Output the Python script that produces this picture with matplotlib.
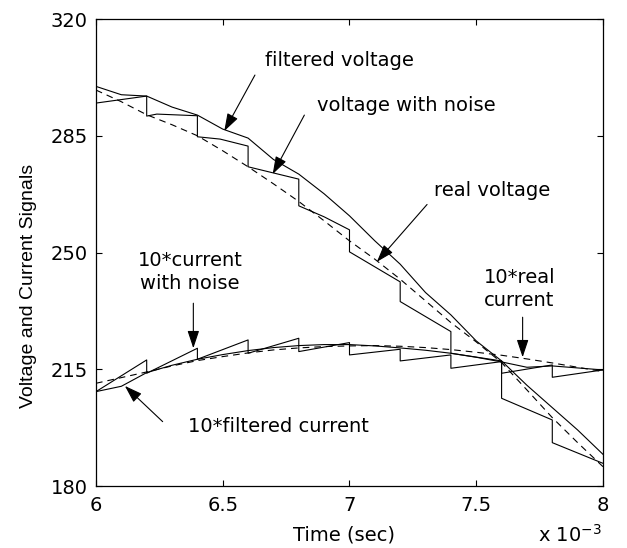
import numpy as np
import matplotlib.pyplot as plt

# time axis in ms (shown as x 10^-3 s)
t = [6.0, 6.1, 6.2, 6.3, 6.4, 6.5, 6.6, 6.7, 6.8, 6.9, 7.0,
     7.1, 7.2, 7.3, 7.4, 7.5, 7.6, 7.7, 7.8, 7.9, 8.0]

v_real = [298.7, 295.2, 291.3, 288.3, 285.0, 280.5, 275.7, 270.6, 265.3, 259.5, 253.5,
          248.0, 242.0, 235.5, 229.0, 223.2, 217.0, 208.8, 200.5, 193.0, 185.8]
v_filt = [299.8, 297.3, 296.9, 293.6, 291.2, 287.0, 284.3, 277.9, 273.5, 267.6, 261.0,
          253.5, 246.5, 238.0, 231.3, 223.5, 217.5, 210.2, 203.5, 196.8, 189.5]
i_real = [210.8, 212.5, 214.2, 216.0, 217.6, 218.8, 219.9, 220.8, 221.4, 221.8, 222.0,
          222.1, 221.9, 221.5, 220.9, 220.1, 219.2, 218.1, 216.9, 215.6, 214.3]
i_filt = [208.3, 209.9, 214.0, 216.2, 218.0, 219.4, 220.6, 221.5, 222.1, 222.4, 222.4,
          222.0, 221.4, 220.7, 219.8, 218.6, 217.2, 215.6, 216.0, 215.4, 214.8]

# noisy signals, jumps at every sample instant
tv_noise = [6.0, 6.2, 6.2, 6.24, 6.4, 6.4, 6.49, 6.6, 6.6, 6.8, 6.8, 6.9, 7.0, 7.0,
            7.2, 7.2, 7.4, 7.4, 7.6, 7.6, 7.8, 7.8, 8.0]
v_noise = [294.8, 296.9, 290.9, 291.5, 291.0, 284.7, 284.0, 281.9, 275.7, 272.0, 264.0,
           260.7, 256.8, 250.2, 241.2, 235.3, 226.3, 219.8, 217.5, 206.3, 199.8, 193.0, 186.8]
ti_noise = [6.0, 6.2, 6.2, 6.4, 6.4, 6.6, 6.6, 6.8, 6.8, 7.0, 7.0, 7.2, 7.2, 7.4,
            7.4, 7.6, 7.6, 7.8, 7.8, 8.0]
i_noise = [208.3, 217.8, 213.8, 221.3, 218.0, 223.8, 219.8, 224.3, 220.3, 223.0,
           219.3, 221.0, 217.5, 219.3, 215.3, 217.3, 213.8, 216.3, 212.6, 214.8]

plt.rcParams['font.family'] = 'DejaVu Sans'
plt.rcParams['font.size'] = 14

fig = plt.figure(figsize=(6.27, 5.48), dpi=100)
ax = fig.add_axes([0.1531, 0.1131, 0.8086, 0.8522])

lw = 0.8
ax.plot(t, v_real, 'k--', lw=lw, dashes=(6, 4.5))
ax.plot(t, v_filt, 'k-', lw=lw)
ax.plot(tv_noise, v_noise, 'k-', lw=lw)
ax.plot(t, i_real, 'k--', lw=lw, dashes=(6, 4.5))
ax.plot(t, i_filt, 'k-', lw=lw)
ax.plot(ti_noise, i_noise, 'k-', lw=lw)

ax.set_xlim(6, 8)
ax.set_ylim(180, 320)
ax.set_xticks([6, 6.5, 7, 7.5, 8])
ax.set_xticklabels(['6', '6.5', '7', '7.5', '8'])
ax.set_yticks([180, 215, 250, 285, 320])
ax.tick_params(direction='in', length=4, width=0.8, top=True, right=True, labelsize=14)
ax.tick_params(axis='y', pad=6)
ax.tick_params(axis='x', pad=7)
for s in ax.spines.values():
    s.set_linewidth(0.9)

ax.set_xlabel('Time (sec)', fontsize=14)
ax.xaxis.label.set_va('center')
ax.xaxis.set_label_coords(0.49, -0.105)
ax.set_ylabel('Voltage and Current Signals', fontsize=14, family='Liberation Sans')
ax.yaxis.set_label_coords(-0.116, 0.429)
ax.text(0.998, -0.119, 'x 10$^{-3}$', transform=ax.transAxes, ha='right', va='baseline', fontsize=14)

arrow = dict(arrowstyle='-|>,head_length=0.9,head_width=0.3', color='k', lw=0.8,
             mutation_scale=12, shrinkA=0, shrinkB=0)

ax.text(6.961, 307.7, 'filtered voltage', ha='center', va='center')
ax.annotate('', xy=(6.506, 286.4), xytext=(6.627, 303.2), arrowprops=arrow)

ax.text(7.225, 294.2, 'voltage with noise', ha='center', va='center')
ax.annotate('', xy=(6.697, 273.5), xytext=(6.822, 291.2), arrowprops=arrow)

ax.text(7.562, 268.5, 'real voltage', ha='center', va='center')
ax.annotate('', xy=(7.108, 247.2), xytext=(7.306, 264.4), arrowprops=arrow)

ax.text(7.670, 239.0, '10*real\ncurrent', ha='center', va='center', linespacing=1.3)
ax.annotate('', xy=(7.683, 218.6), xytext=(7.683, 230.6), arrowprops=arrow)

ax.text(6.371, 244.2, '10*current\nwith noise', ha='center', va='center', linespacing=1.3)
ax.annotate('', xy=(6.384, 221.3), xytext=(6.384, 234.8), arrowprops=arrow)

ax.text(6.721, 197.8, '10*filtered current', ha='center', va='center')
ax.annotate('', xy=(6.114, 210.0), xytext=(6.263, 199.3), arrowprops=arrow)

fig.savefig('out.png', dpi=100)
